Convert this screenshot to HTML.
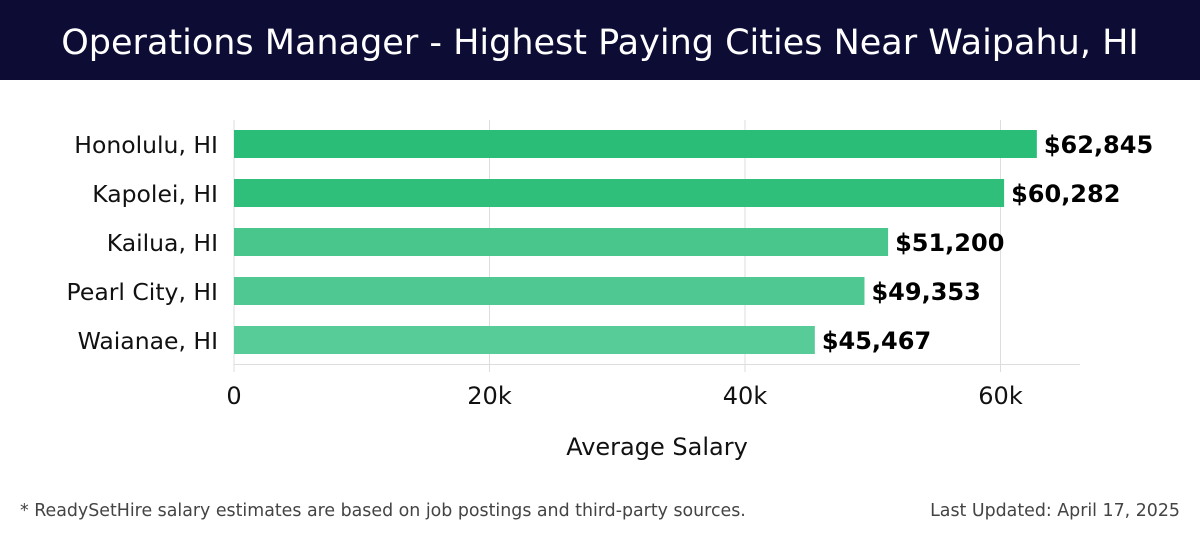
<!DOCTYPE html>
<html><head><meta charset="utf-8"><style>
body{margin:0;width:1200px;height:540px;background:#fff;font-family:"DejaVu Sans","Liberation Sans",sans-serif;overflow:hidden;position:relative}
.hdr{position:absolute;left:0;top:0;width:1200px;height:80px;background:#0c0c35;color:#fff;font-size:35px;text-align:center;line-height:86px;font-weight:normal}
.foot{position:absolute;top:501px;font-size:17.4px;color:#444}
</style></head><body>
<div class="hdr">Operations Manager - Highest Paying Cities Near Waipahu, HI</div>
<svg id="chart" width="1200" height="470" style="position:absolute;left:0;top:0;font-family:'DejaVu Sans',sans-serif"></svg>
<div class="foot" style="left:20px">* ReadySetHire salary estimates are based on job postings and third-party sources.</div>
<div class="foot" style="right:20px">Last Updated: April 17, 2025</div>
<script>
const cities=["Honolulu, HI","Kapolei, HI","Kailua, HI","Pearl City, HI","Waianae, HI"];
const salaries=[62845,60282,51200,49353,45467];
const labels=["$62,845","$60,282","$51,200","$49,353","$45,467"];
const ticks=[0,20000,40000,60000];
const tickLabels=["0","20k","40k","60k"];
const colors=["#2abd77","#2fbf7b","#48c68c","#50c891","#58cc98"];
const svg=document.getElementById('chart');const NS='http://www.w3.org/2000/svg';
const x=v=>234+v*(255.5/20000);
const y=i=>130+i*49;
function mk(t,a,txt){const e=document.createElementNS(NS,t);for(const k in a)e.setAttribute(k,a[k]);if(txt!=null)e.textContent=txt;svg.appendChild(e);return e;}
ticks.forEach((t,i)=>{
 const g=mk('line',{x1:x(t),x2:x(t),y1:120,y2:372,stroke:'#ddd','stroke-width':1});
 
 
 const l=mk('text',{x:x(t),y:404,'text-anchor':'middle','font-size':24,fill:'#111'},tickLabels[i]);
 
 
});
const ax=mk('line',{x1:234,x2:1080,y1:364.5,y2:364.5,stroke:'#ddd','stroke-width':1});


salaries.forEach((v,i)=>{
 const b=mk('rect',{x:234,y:y(i),width:x(v)-234,height:28,fill:colors[i]});
 
 
 const c=mk('text',{x:218,y:y(i)+23,'text-anchor':'end','font-size':23.5,fill:'#111'},cities[i]);
 
 
 const vl=mk('text',{x:x(v)+7,y:y(i)+23,'font-size':24,'font-weight':'bold',fill:'#000'},labels[i]);
 
 
});
const xt=mk('text',{x:657,y:455,'text-anchor':'middle','font-size':24,fill:'#111'},'Average Salary');


</script>
</body></html>
